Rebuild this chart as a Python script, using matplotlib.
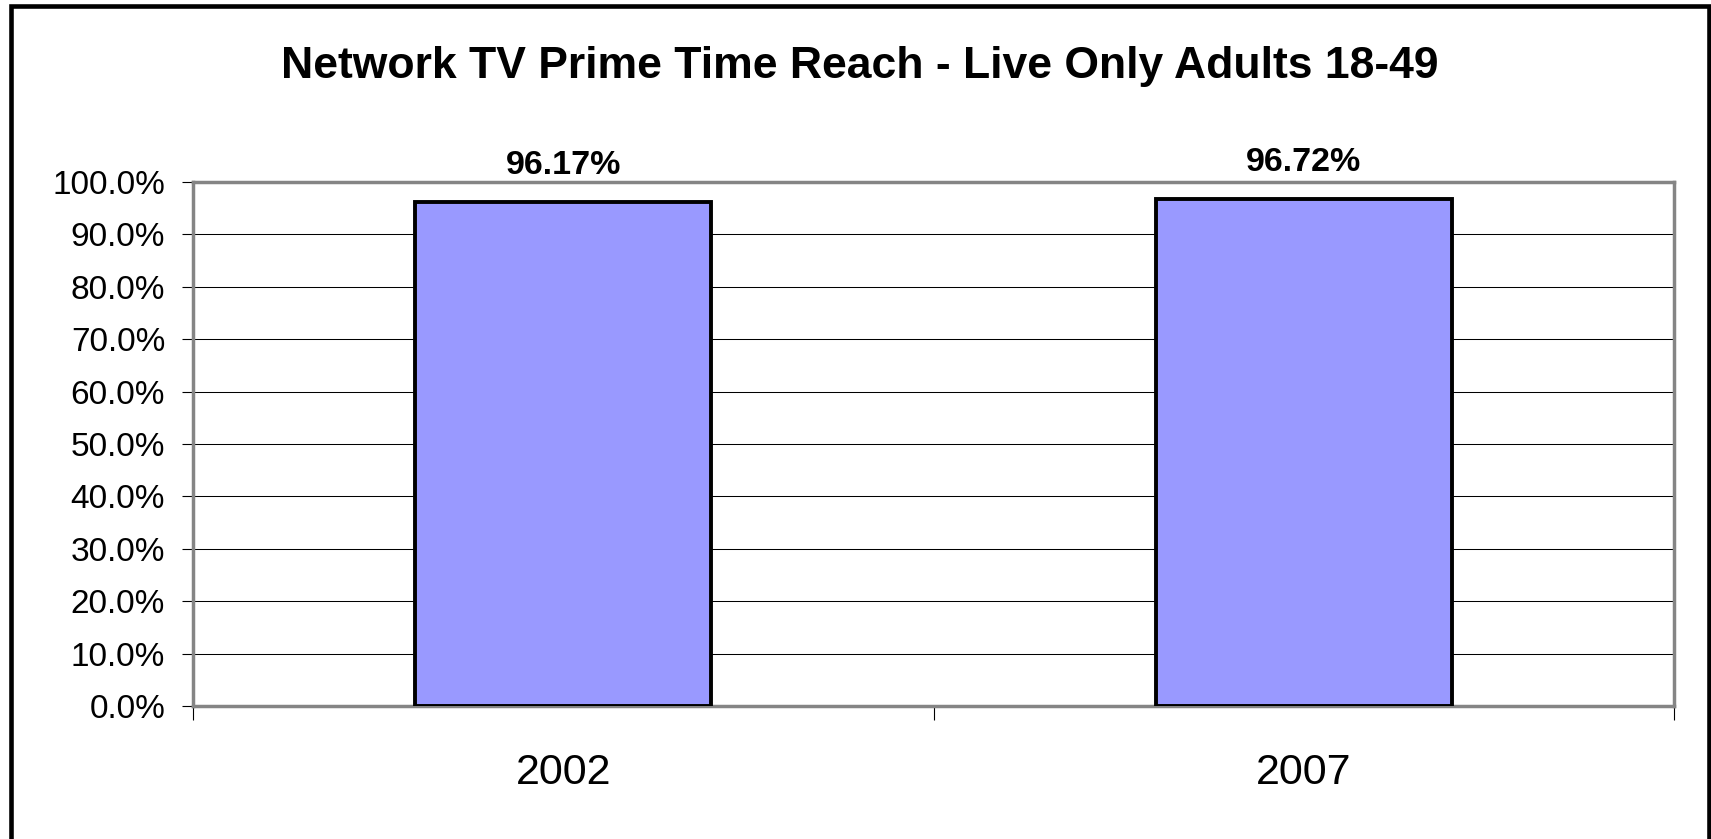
import matplotlib.pyplot as plt
from matplotlib.patches import Rectangle
from matplotlib.ticker import FixedLocator, PercentFormatter

plt.rcParams['font.family'] = ['Liberation Sans', 'DejaVu Sans']

years = ['2002', '2007']
reach = [96.17, 96.72]
y_ticks = [0, 10, 20, 30, 40, 50, 60, 70, 80, 90, 100]
title = 'Network TV Prime Time Reach - Live Only Adults 18-49'

W, H = 1711, 839
fig = plt.figure(figsize=(W / 100, H / 100), dpi=100)
ax = fig.add_axes([193 / W, 1 - 706 / H, (1674 - 193) / W, (706 - 182) / H])

# outer chart frame (bottom edge runs off the image)
fig.patches.append(Rectangle((10.5 / W, -0.05), (1709 - 10.5) / W, 1 - 6 / H + 0.05,
                             transform=fig.transFigure, fill=False,
                             edgecolor='black', linewidth=3.3, clip_on=False))

xpos = list(range(len(years)))
bars = ax.bar(xpos, reach, width=0.4, color='#9999FF', edgecolor='black',
              linewidth=2.8, zorder=3)

for b, v in zip(bars, reach):
    ax.annotate(f'{v:.2f}%', (b.get_x() + b.get_width() / 2, v),
                xytext=(0, 20), textcoords='offset points', ha='center',
                va='baseline', fontsize=24.5, fontweight='bold')

ax.set_xlim(-0.5, len(years) - 0.5)
ax.set_ylim(0, 100)
ax.set_yticks(y_ticks)
ax.yaxis.set_major_formatter(PercentFormatter(decimals=1))
ax.tick_params(axis='y', labelsize=24, length=8, width=0.8, pad=12, color='black')

ax.set_xticks(xpos)
ax.set_xticklabels(years)
ax.xaxis.set_minor_locator(FixedLocator([i - 0.5 for i in range(len(years) + 1)]))
ax.tick_params(axis='x', which='major', length=0, labelsize=31, pad=34)
ax.tick_params(axis='x', which='minor', length=10, width=0.8, color='black')

ax.grid(axis='y', color='black', linewidth=0.75, zorder=1)
ax.set_axisbelow(True)
for s in ax.spines.values():
    s.set_color('#858585')
    s.set_linewidth(2.5)

fig.text(860 / W, 1 - 78 / H, title, ha='center', va='baseline',
         fontsize=32, fontweight='bold')

fig.savefig('out.png', dpi=100)
